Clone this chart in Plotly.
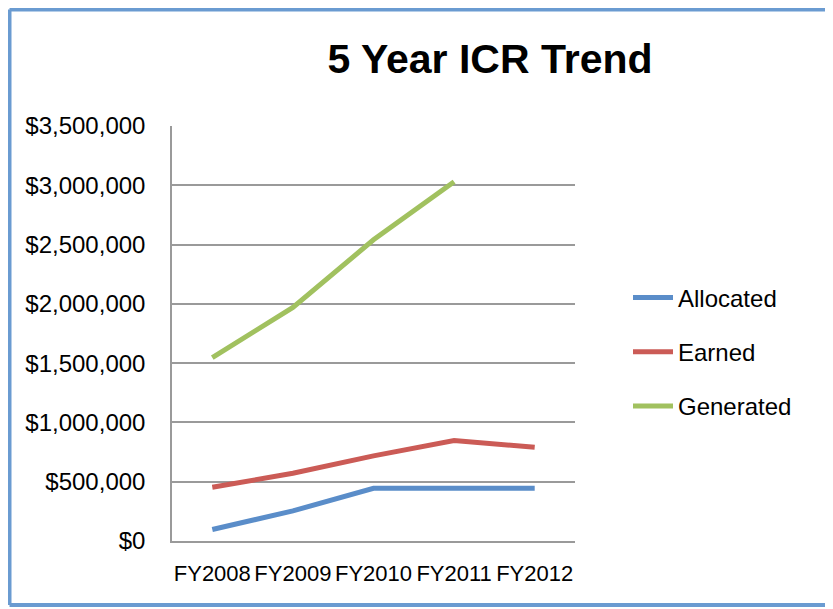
import plotly.graph_objects as go

categories = ["FY2008", "FY2009", "FY2010", "FY2011", "FY2012"]
allocated = [97000, 254000, 444000, 444000, 444000]
earned = [453000, 571000, 718000, 847000, 791000]
generated = [1547000, 1970000, 2540000, 3030000, None]
y_ticks = [0, 500000, 1000000, 1500000, 2000000, 2500000, 3000000, 3500000]
y_labels = ["$0", "$500,000", "$1,000,000", "$1,500,000", "$2,000,000",
            "$2,500,000", "$3,000,000", "$3,500,000"]

series = [("Allocated", allocated, "#5A8DC9"),
          ("Earned", earned, "#CB5B56"),
          ("Generated", generated, "#A1C15F")]

fig = go.Figure()
for name, vals, col in series:
    fig.add_trace(go.Scatter(x=categories, y=vals, name=name, mode="lines",
                             line=dict(color=col, width=5),
                             legendgroup=name, connectgaps=False))

# page has an 8px body margin; figure coordinates are page coordinates - 8
W, H = 817, 601
L, T = 164, 118
R = W - 567
B = H - 533
pw, ph = W - L - R, H - T - B

bx0 = (1.5 - L) / pw
bx1 = (W + 40 - L) / pw
by0 = (H - B - 597) / ph
by1 = (H - B - 1.5) / ph
frame = dict(color="#6A9BD1", width=4)

fig.update_layout(
    width=W, height=H,
    margin=dict(l=L, r=R, t=T, b=B, autoexpand=False),
    paper_bgcolor="white", plot_bgcolor="white",
    font=dict(family="Liberation Sans, Arial, sans-serif", size=23, color="black"),
    title=dict(text="<b>5 Year ICR Trend</b>", x=482 / W, xanchor="center",
               y=1 - 51 / H, yanchor="middle",
               font=dict(size=41, color="black")),
    showlegend=True,
    legend=dict(x=1 + (620 - (W - R)) / pw, xanchor="left",
                y=(H - B - 344) / ph, yanchor="middle",
                font=dict(size=24), tracegroupgap=20, itemwidth=40,
                bgcolor="rgba(0,0,0,0)"),
    xaxis=dict(showgrid=False, showline=True, linecolor="#9a9a9a", linewidth=1.5,
               ticks="outside", ticklen=12, tickcolor="rgba(0,0,0,0)",
               tickangle=0, automargin=False,
               tickfont=dict(size=22), range=[-0.5, 4.5]),
    yaxis=dict(range=[0, 3500000], tickvals=y_ticks, ticktext=y_labels,
               showgrid=True, gridcolor="#9a9a9a", gridwidth=1.5,
               showline=True, linecolor="#9a9a9a", linewidth=1.5,
               ticks="outside", ticklen=20, tickcolor="rgba(0,0,0,0)",
               automargin=False,
               tickfont=dict(size=24), zeroline=False),
    shapes=[
        dict(type="line", xref="paper", yref="paper", x0=bx0, x1=bx0, y0=by0, y1=by1,
             line=frame, layer="below"),
        dict(type="line", xref="paper", yref="paper", x0=bx0, x1=bx1, y0=by1, y1=by1,
             line=frame, layer="below"),
        dict(type="line", xref="paper", yref="paper", x0=bx0, x1=bx1, y0=by0, y1=by0,
             line=frame, layer="below"),
    ],
)

fig.write_html("out.html")
